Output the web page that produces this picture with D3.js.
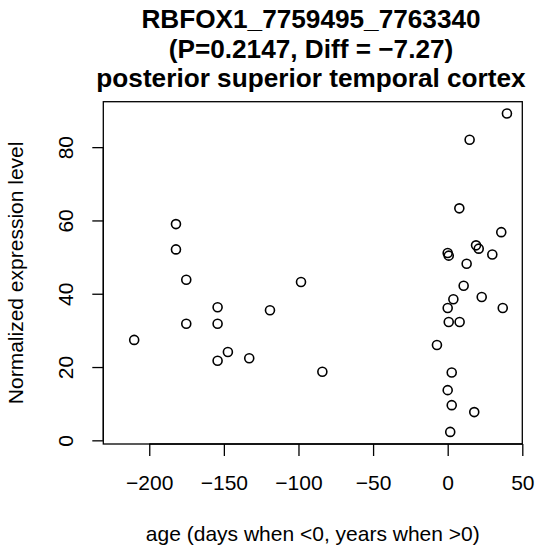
<!DOCTYPE html>
<html>
<head>
<meta charset="utf-8">
<script src="https://cdn.jsdelivr.net/npm/d3@7"></script>
<style>
  html, body { margin: 0; padding: 0; background: #fff; }
  svg { display: block; font-family: "Liberation Sans", Arial, Helvetica, sans-serif; }
</style>
</head>
<body>
<svg id="chart" width="536" height="553"></svg>
<script>
// ---- data ----
const ages = [
  -210.1, -182.1, -182.1, -175.2, -175.2, -154.2, -154.2, -154.2, -147.3, -133.0, -119.1, -98.3, -84.0,
  39.7, 14.7, 7.8, 35.9, 19.0, 20.8, 29.9, 0.0, 0.7, 12.7, 10.7, 22.8, 3.8, 0.0, 36.9, 0.7, 8.0, -7.2, 2.7, 0.0, 2.7, 17.8, 1.7
];
const expression = [
  27.4, 59.0, 52.1, 43.8, 31.8, 36.3, 31.8, 21.7, 24.1, 22.4, 35.5, 43.2, 18.7,
  89.2, 82.0, 63.3, 56.8, 53.2, 52.3, 50.7, 51.1, 50.4, 48.2, 42.2, 39.1, 38.5, 36.1, 36.1, 32.3, 32.3, 26.0, 18.5, 13.7, 9.6, 7.7, 2.3
];
const xTicks = [-200, -150, -100, -50, 0, 50];
const yTicks = [0, 20, 40, 60, 80];
const titleLines = ["RBFOX1_7759495_7763340", "(P=0.2147, Diff = \u22127.27)", "posterior superior temporal cortex"];
const xLabel = "age (days when <0, years when >0)";
const yLabel = "Normalized expression level";
const xDomain = [-230.8, 50];
const yDomain = [-1.0, 92.4];

// ---- layout ----
const svg = d3.select("#chart");
const L = 103.3, R = 522.3, T = 101.7, B = 444;
const x = d3.scaleLinear().domain(xDomain).range([L, R]);
const y = d3.scaleLinear().domain(yDomain).range([B, T]);
const fmt = v => (v < 0 ? "\u2212" + Math.abs(v) : String(v));

svg.append("rect").attr("width", 536).attr("height", 553).attr("fill", "#fff");

// x axis
const xa = svg.append("g").attr("transform", `translate(0,${B})`)
  .call(d3.axisBottom(x).tickValues(xTicks).tickSize(12).tickPadding(5).tickFormat(fmt));
xa.select(".domain").attr("d", `M${x(xTicks[0])},0H${x(xTicks[xTicks.length-1])}`).attr("stroke-width", 1.3);
xa.selectAll(".tick line").attr("stroke-width", 1.3);
xa.selectAll(".tick text").attr("font-size", 21).attr("fill", "#000")
  .attr("dy", null).attr("y", 46).attr("font-family", "Liberation Sans, Arial, sans-serif");

// y axis
const ya = svg.append("g").attr("transform", `translate(${L},0)`)
  .call(d3.axisLeft(y).tickValues(yTicks).tickSize(11).tickFormat(fmt));
ya.select(".domain").attr("d", `M0,${y(yTicks[0])}V${y(yTicks[yTicks.length-1])}`).attr("stroke-width", 1.3);
ya.selectAll(".tick line").attr("stroke-width", 1.3);
ya.selectAll(".tick text").attr("font-size", 21).attr("fill", "#000")
  .attr("x", null).attr("dy", null)
  .attr("transform", `translate(${73 - L},0) rotate(-90)`)
  .attr("text-anchor", "middle").attr("y", 0).attr("font-family", "Liberation Sans, Arial, sans-serif");

// box
svg.append("rect").attr("x", L).attr("y", T).attr("width", R - L).attr("height", B - T)
  .attr("fill", "none").attr("stroke", "#000").attr("stroke-width", 1.3);

// points
svg.append("g").selectAll("circle").data(ages.map((a, i) => [a, expression[i]]))
  .join("circle")
  .attr("cx", d => x(d[0])).attr("cy", d => y(d[1])).attr("r", 4.5)
  .attr("fill", "none").attr("stroke", "#000").attr("stroke-width", 1.6);

// title
const cx = (L + R) / 2;
svg.append("text").attr("text-anchor", "middle").attr("font-weight", "bold").attr("font-size", 26.2)
  .selectAll("tspan").data(titleLines).join("tspan")
  .attr("x", 311).attr("y", (d, i) => 28.3 + i * 29.5).text(d => d);

// axis labels
svg.append("text").attr("x", cx).attr("y", 541).attr("text-anchor", "middle")
  .attr("font-size", 21).text(xLabel);
svg.append("text").attr("transform", `translate(23,${(T + B) / 2}) rotate(-90)`)
  .attr("text-anchor", "middle").attr("font-size", 21).text(yLabel);
</script>
</body>
</html>
